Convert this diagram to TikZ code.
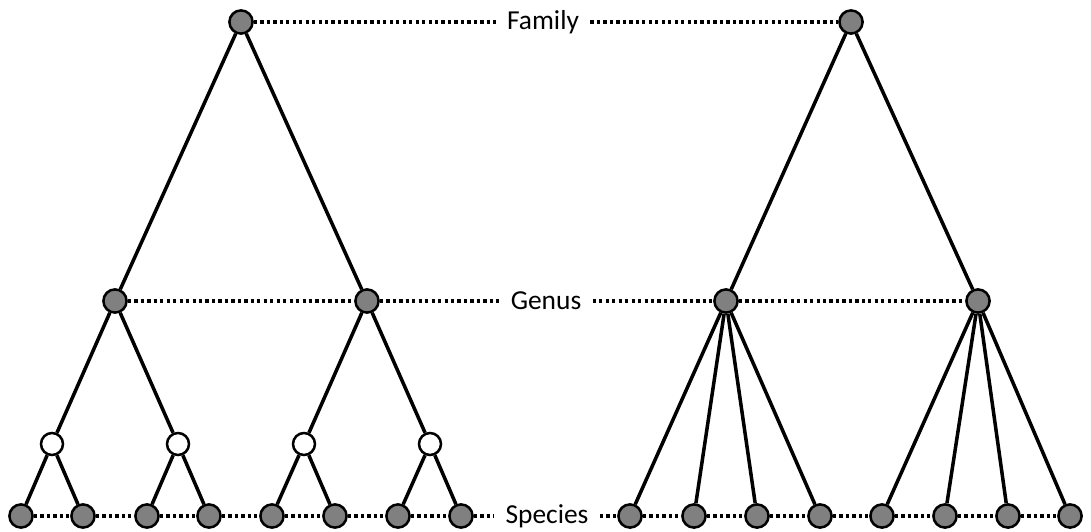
\documentclass[tikz,border=0pt]{standalone}
\usepackage{fontspec}
\setmainfont{Carlito}
\usetikzlibrary{positioning}

\begin{document}
\begin{tikzpicture}[
    x=0.025cm, y=-0.025cm,
    taxon/.style={draw, circle, line width=1.8pt, fill=black!50, minimum size=0.58cm, inner sep=0pt},
    hidden/.style={taxon, fill=white, minimum size=0.55cm},
    rank/.style={inner xsep=8pt, font=\fontsize{19.5}{23}\selectfont},
    branch/.style={line width=2.5pt},
    level/.style={line width=2.6pt, dash pattern=on 2.3pt off 2.3pt}
]
    \useasboundingbox (0,0) rectangle (1091,532);

    % Rank labels
    \node[rank] (family) at (543,22) {Family};
    \node[rank] (genus) at (546,301) {Genus};
    \node[rank] (species) at (547,516) {Species};

    % Left tree
    \node[taxon] (fam1) at (241,22) {};
    \node[taxon] (gen1) at (115,301) {};
    \node[taxon] (gen2) at (367,301) {};
    \node[hidden] (sub1) at (52,444) {};
    \node[hidden] (sub2) at (178,444) {};
    \node[hidden] (sub3) at (304,444) {};
    \node[hidden] (sub4) at (430,444) {};
    \foreach \i/\x in {1/21, 2/83, 3/147, 4/209, 5/272, 6/335, 7/398, 8/461}
        \node[taxon] (sp\i) at (\x,516) {};

    % Right tree
    \node[taxon] (fam2) at (851,22) {};
    \node[taxon] (gen3) at (726,301) {};
    \node[taxon] (gen4) at (978,301) {};
    \foreach \i/\x in {9/630, 10/694, 11/757, 12/820, 13/882, 14/945, 15/1008, 16/1070}
        \node[taxon] (sp\i) at (\x,516) {};

    % Branches, left tree
    \draw[branch] (gen1) -- (fam1) -- (gen2);
    \draw[branch] (sub1) -- (gen1) -- (sub2);
    \draw[branch] (sub3) -- (gen2) -- (sub4);
    \draw[branch] (sp1) -- (sub1) -- (sp2);
    \draw[branch] (sp3) -- (sub2) -- (sp4);
    \draw[branch] (sp5) -- (sub3) -- (sp6);
    \draw[branch] (sp7) -- (sub4) -- (sp8);

    % Branches, right tree
    \draw[branch] (gen3) -- (fam2) -- (gen4);
    \foreach \i in {9,10,11,12}
        \draw[branch] (gen3) -- (sp\i);
    \foreach \i in {13,14,15,16}
        \draw[branch] (gen4) -- (sp\i);

    % Rank levels
    \draw[level] (fam1) -- (family);
    \draw[level] (family) -- (fam2);
    \draw[level] (gen1) -- (gen2);
    \draw[level] (gen2) -- (genus);
    \draw[level] (genus) -- (gen3);
    \draw[level] (gen3) -- (gen4);
    \foreach \i [evaluate=\i as \j using int(\i+1)] in {1,...,7}
        \draw[level] (sp\i) -- (sp\j);
    \draw[level] (sp8) -- (species);
    \draw[level] (species) -- (sp9);
    \foreach \i [evaluate=\i as \j using int(\i+1)] in {9,...,15}
        \draw[level] (sp\i) -- (sp\j);

\end{tikzpicture}
\end{document}
